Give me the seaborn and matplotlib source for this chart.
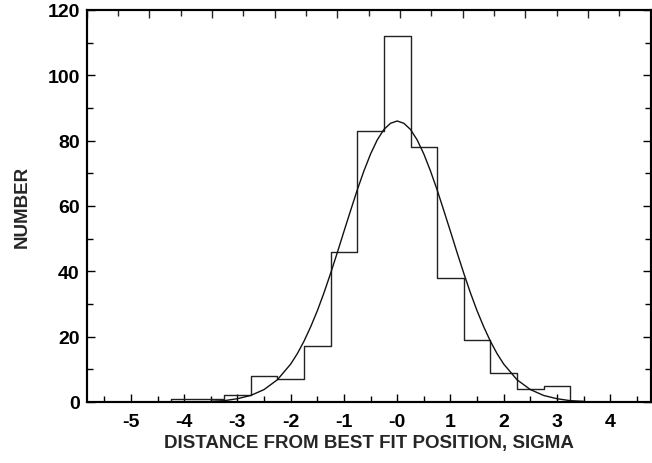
import pandas as pd
import matplotlib
matplotlib.use("Agg")
import matplotlib.pyplot as plt
import seaborn as sns
from matplotlib.ticker import MultipleLocator

# histogram: bin centres (sigma) and counts, bin width 0.5
# (empty end bins so the outline drops back to zero)
bin_centers = [-4.5, -4.0, -3.5, -3.0, -2.5, -2.0, -1.5, -1.0, -0.5, 0.0,
               0.5, 1.0, 1.5, 2.0, 2.5, 3.0, 3.5]
counts = [0, 1, 1, 2, 8, 7, 17, 46, 83, 112, 78, 38, 19, 9, 4, 5, 0]

# fitted gaussian
curve_x = [-3.5, -3.25, -3.0, -2.75, -2.5, -2.25,
           -2.0, -1.875, -1.75, -1.625, -1.5, -1.375, -1.25, -1.125,
           -1.0, -0.875, -0.75, -0.625, -0.5, -0.375, -0.25, -0.125,
           0.0, 0.125, 0.25, 0.375, 0.5, 0.625, 0.75, 0.875,
           1.0, 1.125, 1.25, 1.375, 1.5, 1.625, 1.75, 1.875,
           2.0, 2.25, 2.5, 2.75, 3.0, 3.25, 3.5]
curve_y = [0.2, 0.4, 1.0, 2.0, 3.8, 6.8,
           11.6, 14.8, 18.6, 23.0, 27.9, 33.4, 39.4, 45.7,
           52.2, 58.6, 64.9, 70.7, 75.9, 80.2, 83.4, 85.3,
           86.0, 85.3, 83.4, 80.2, 75.9, 70.7, 64.9, 58.6,
           52.2, 45.7, 39.4, 33.4, 27.9, 23.0, 18.6, 14.8,
           11.6, 6.8, 3.8, 2.0, 1.0, 0.4, 0.2]

xtick_pos = [-5, -4, -3, -2, -1, 0, 1, 2, 3, 4]
xtick_labels = ["-5", "-4", "-3", "-2", "-1", "-0", "1", "2", "3", "4"]

sns.set_theme(style="ticks")
plt.rcParams["font.family"] = ["Liberation Sans", "DejaVu Sans"]
plt.rcParams["font.weight"] = "bold"

fig = plt.figure(figsize=(6.52, 4.64), dpi=100)
ax = fig.add_axes([0.133, 0.1315, 0.865, 0.845])

hist_df = pd.DataFrame({"sigma": bin_centers, "n": counts})
sns.histplot(data=hist_df, x="sigma", weights="n", binwidth=0.5,
             binrange=(bin_centers[0] - 0.25, bin_centers[-1] + 0.25),
             element="step", fill=False, color="#222222", linewidth=1.0,
             ax=ax)
sns.lineplot(x=curve_x, y=curve_y, color="#111111", linewidth=1.0, ax=ax)

ax.set_xlim(-5.83, 4.76)
ax.set_ylim(0, 120)
ax.set_xticks(xtick_pos)
ax.set_xticklabels(xtick_labels)
ax.xaxis.set_minor_locator(MultipleLocator(0.5))
ax.yaxis.set_major_locator(MultipleLocator(20))
ax.yaxis.set_minor_locator(MultipleLocator(10))
ax.yaxis.set_ticks_position("both")
ax.tick_params(which="both", direction="in", colors="black", labelsize=14)
ax.tick_params(axis="x", pad=8)
ax.tick_params(axis="y", pad=5)
ax.tick_params(which="major", length=6, width=1)
ax.tick_params(which="minor", length=4, width=1)
for lab in ax.get_xticklabels() + ax.get_yticklabels():
    lab.set_fontweight("bold")

# top axis has its own tick spacing
top = ax.twiny()
top.set_xlim(-5, 4)
top.xaxis.set_major_locator(MultipleLocator(1))
top.xaxis.set_minor_locator(MultipleLocator(0.5))
top.tick_params(which="both", direction="in", labeltop=False)
top.tick_params(which="major", length=6, width=1)
top.tick_params(which="minor", length=4, width=1)

for a in (ax, top):
    for s in a.spines.values():
        s.set_linewidth(1.5)
        s.set_color("black")

ax.set_xlabel("DISTANCE FROM BEST FIT POSITION, SIGMA", fontsize=13.5,
              fontweight="bold", labelpad=3)
ax.set_ylabel("NUMBER", fontsize=13.5, fontweight="bold", labelpad=12)

fig.savefig("out.png", dpi=100)
